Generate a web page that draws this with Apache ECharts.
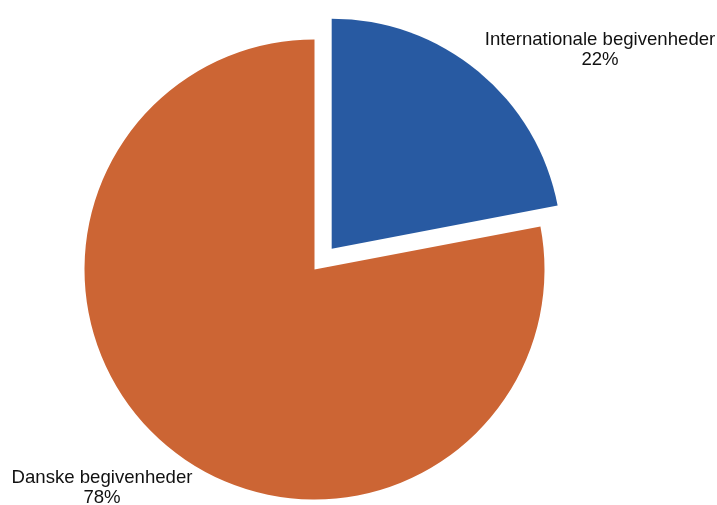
<!DOCTYPE html>
<html>
<head>
<meta charset="utf-8">
<script src="https://cdn.jsdelivr.net/npm/echarts@6/dist/echarts.min.js"></script>
<style>
  html, body { margin: 0; padding: 0; background: #fff; }
  #chart { width: 717px; height: 505px; }
</style>
</head>
<body>
<div id="chart"></div>
<script>
const categories = ['Internationale begivenheder', 'Danske begivenheder']
const values = [22, 78]
const colors = ['#285aa2', '#cc6534']

// centre of each label block
const labelSpots = [[600, 50], [102, 488]]

const total = values.reduce((a, b) => a + b, 0)

const chart = echarts.init(document.getElementById('chart'))
chart.setOption({
  animation: false,
  graphic: categories.map((name, i) => ({
    type: 'text',
    x: labelSpots[i][0],
    y: labelSpots[i][1],
    style: {
      text: name + '\n' + Math.round(values[i] / total * 100) + '%',
      fill: '#111',
      font: '18.6px "Liberation Sans", Arial, sans-serif',
      lineHeight: 20,
      align: 'center',
      verticalAlign: 'middle'
    }
  })),
  series: [{
    type: 'pie',
    center: [314.5, 269.5],
    radius: 230,
    startAngle: 90,
    clockwise: true,
    selectedMode: 'single',
    selectedOffset: 27,
    emphasis: { disabled: true },
    label: { show: false },
    labelLine: { show: false },
    data: categories.map((name, i) => ({
      name,
      value: values[i],
      selected: i === 0,
      itemStyle: { color: colors[i] }
    }))
  }]
})
</script>
</body>
</html>
